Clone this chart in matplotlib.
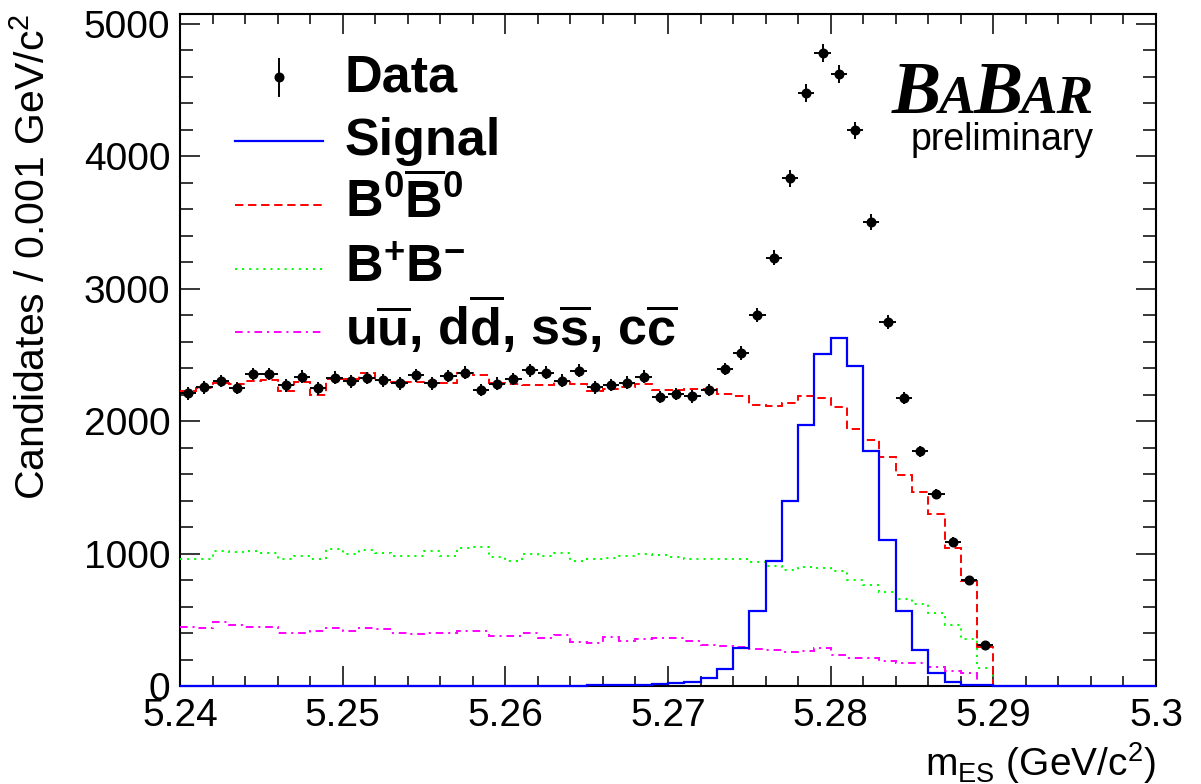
import numpy as np
import matplotlib
matplotlib.use('Agg')
import matplotlib.pyplot as plt
from matplotlib.lines import Line2D

# =============================================================================
# Data (counts per 0.001 GeV/c^2 bin, 5.24 - 5.30)
# =============================================================================

edges = np.round(np.arange(5.240, 5.3005, 0.001), 4)

data_counts = [2210, 2255, 2303, 2252, 2356, 2356, 2270, 2336, 2248, 2328,
               2301, 2326, 2308, 2286, 2346, 2286, 2341, 2366, 2235, 2283,
               2318, 2386, 2366, 2305, 2381, 2255, 2273, 2290, 2336, 2184,
               2205, 2187, 2237, 2394, 2515, 2803, 3235, 3833, 4480, 4783,
               4621, 4197, 3505, 2752, 2174, 1773, 1447, 1091, 800, 311]

signal = [1, 1, 1, 1, 1, 1, 1, 1, 1, 1,
          1, 1, 1, 1, 1, 1, 1, 1, 1, 1,
          2, 2, 2, 3, 3, 4, 5, 7, 9, 13,
          20, 28, 63, 131, 285, 568, 947, 1400, 1970, 2508,
          2626, 2414, 1775, 1106, 563, 273, 101, 33, 10, 5,
          0, 0, 0, 0, 0, 0, 0, 0, 0, 0]

b0b0bar = [2230, 2250, 2285, 2280, 2305, 2313, 2225, 2293, 2199, 2318,
           2318, 2361, 2308, 2293, 2293, 2305, 2285, 2361, 2351, 2285,
           2280, 2275, 2275, 2305, 2280, 2230, 2242, 2255, 2280, 2237,
           2237, 2242, 2242, 2205, 2192, 2121, 2116, 2136, 2187, 2172,
           2104, 1939, 1856, 1730, 1591, 1465, 1298, 1040, 795, 298,
           0, 0, 0, 0, 0, 0, 0, 0, 0, 0]

bpbm = [962, 962, 1023, 1013, 1023, 1002, 960, 980, 957, 1035,
        998, 1030, 1005, 985, 985, 1023, 980, 1040, 1051, 972,
        942, 1000, 985, 1002, 947, 960, 965, 980, 1000, 990,
        972, 960, 960, 960, 962, 934, 904, 879, 896, 891,
        866, 798, 763, 712, 657, 621, 555, 460, 354, 134,
        0, 0, 0, 0, 0, 0, 0, 0, 0, 0]

continuum = [449, 437, 480, 462, 449, 447, 399, 404, 419, 437,
             412, 437, 429, 399, 394, 404, 404, 417, 417, 379,
             379, 404, 361, 386, 336, 328, 369, 343, 356, 361,
             361, 343, 311, 303, 293, 278, 273, 260, 267, 285,
             235, 210, 210, 192, 172, 177, 146, 116, 100, 10,
             0, 0, 0, 0, 0, 0, 0, 0, 0, 0]

legend_labels = ['Data', 'Signal',
                 r'$\mathbf{B^{0}\overline{B}^{0}}$',
                 r'$\mathbf{B^{+}B^{-}}$',
                 r'u$\mathbf{\overline{u}}$, d$\mathbf{\overline{d}}$, '
                 r's$\mathbf{\overline{s}}$, c$\mathbf{\overline{c}}$']

# =============================================================================
# Plotting
# =============================================================================

params = {'font.family': ['Liberation Sans', 'DejaVu Sans'],
          'mathtext.fontset': 'custom',
          'mathtext.rm': 'Liberation Sans',
          'mathtext.it': 'Liberation Sans:italic',
          'mathtext.bf': 'Liberation Sans:bold',
          'lines.scale_dashes': False,
          'axes.linewidth': 1.5,
          'xtick.labelsize': 28,
          'ytick.labelsize': 28}
plt.rcParams.update(params)

W, H = 1201, 784
fig = plt.figure(figsize=(W / 100, H / 100), dpi=100)
ax = fig.add_axes([180 / W, 1 - 686 / H, 976 / W, 672 / H])

red_ls = (0, (6.0, 3.4))
green_ls = (0, (1.5, 3.6))
mag_ls = (0, (5.5, 3.5, 1.5, 3.5))

# baseline=None -> only the histogram outline, no edge drop at 5.24
ax.stairs(continuum, edges, baseline=None, color='#ff00ff', lw=1.4, ls=mag_ls, zorder=3, clip_on=False)
ax.stairs(bpbm, edges, baseline=None, color='#00ff00', lw=1.4, ls=green_ls, zorder=3, clip_on=False)
ax.stairs(b0b0bar, edges, baseline=None, color='#ff0000', lw=1.4, ls=red_ls, zorder=3, clip_on=False)
ax.stairs(signal, edges, baseline=None, color='#0000ff', lw=1.6, zorder=3, clip_on=False)

centers = 0.5 * (edges[:-1] + edges[1:])
n_data = len(data_counts)
counts = np.array(data_counts, dtype=float)
ax.errorbar(centers[:n_data], counts, yerr=np.sqrt(counts), xerr=0.0005,
            fmt='o', color='black', ms=6.2, elinewidth=1.4, capsize=0, zorder=4)

ax.set_xlim(5.24, 5.30)
ax.set_ylim(0, 5075)
ax.set_xticks(np.arange(5.24, 5.3001, 0.01))
ax.set_xticklabels(['5.24', '5.25', '5.26', '5.27', '5.28', '5.29', '5.3'])
ax.set_xticks(np.arange(5.24, 5.3001, 0.002), minor=True)
ax.set_yticks(np.arange(0, 5001, 1000))
ax.set_yticks(np.arange(0, 5001, 200), minor=True)
ax.tick_params(axis='both', which='both', direction='in', top=True, right=True, width=1.1)
ax.tick_params(axis='x', which='major', length=14.4, pad=9)
ax.tick_params(axis='x', which='minor', length=7.2)
ax.tick_params(axis='y', which='major', length=14.4, pad=7)
ax.tick_params(axis='y', which='minor', length=9.5)

ax.set_ylabel(r'Candidates / 0.001 GeV/c$^2$', fontsize=29.5, loc='top')
ax.yaxis.set_label_coords(-0.131, 1.0)
ax.set_xlabel(r'm$_{\mathrm{ES}}$ (GeV/c$^2$)', fontsize=28, loc='right')
ax.xaxis.set_label_coords(1.0, -0.08)

# legend, drawn by hand in pixel positions (converted to axes fraction)
def afx(px):
    return (px - 180) / 976.0

def afy(py):
    return (686 - py) / 672.0

tr = ax.transAxes
ax.add_line(Line2D([afx(279), afx(279)], [afy(59), afy(96)], color='black', lw=1.4, transform=tr))
ax.add_line(Line2D([afx(279)], [afy(77)], marker='o', ms=6.2, color='black', transform=tr))
handle_y = [141, 205, 269, 332]
handle_style = [('#0000ff', '-', 1.6), ('#ff0000', red_ls, 1.4),
                ('#00ff00', green_ls, 1.4), ('#ff00ff', mag_ls, 1.4)]
for hy, (c, ls, lw) in zip(handle_y, handle_style):
    ax.add_line(Line2D([afx(235), afx(323)], [afy(hy), afy(hy)], color=c, ls=ls, lw=lw, transform=tr))

text_y = [92, 155, 218, 282, 345]
for ty, lab in zip(text_y, legend_labels):
    ax.text(afx(345), afy(ty), lab, transform=tr, fontsize=37.5, fontweight='bold',
            ha='left', va='baseline')

# BaBar logo
fig.canvas.draw()
x_px = 892
for piece, size in [('B', 53), ('A', 39.5), ('B', 53), ('AR', 39.5)]:
    t = fig.text(x_px / W, 1 - 113 / H, piece, fontsize=size, family='Liberation Serif',
                 fontweight='bold', fontstyle='italic', ha='left', va='baseline')
    bb = t.get_window_extent(renderer=fig.canvas.get_renderer())
    x_px = bb.x1 - 2
fig.text(1094 / W, 1 - 150 / H, 'preliminary', fontsize=27, ha='right', va='baseline')

fig.savefig('out.png', dpi=100)
